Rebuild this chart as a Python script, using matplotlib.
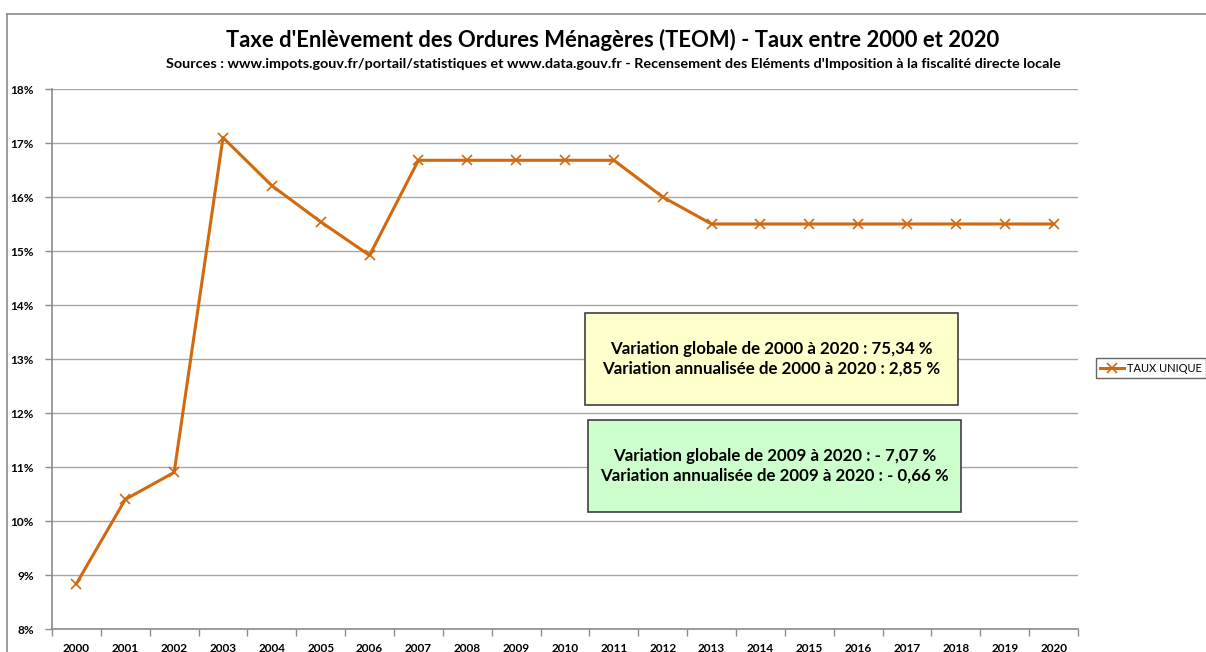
import matplotlib
matplotlib.use("Agg")
import matplotlib.pyplot as plt
from matplotlib.patches import Rectangle
from matplotlib.lines import Line2D
from matplotlib.ticker import FixedLocator, NullFormatter

plt.rcParams['font.family'] = ['Lato', 'DejaVu Sans']

years = [str(y) for y in range(2000, 2021)]
taux = [8.84, 10.40, 10.90, 17.10, 16.21, 15.54, 14.92,
        16.68, 16.68, 16.68, 16.68, 16.68, 16.00,
        15.50, 15.50, 15.50, 15.50, 15.50, 15.50, 15.50, 15.50]
y_ticks = list(range(8, 19))

W, H = 1206, 652
fig = plt.figure(figsize=(W / 100, H / 100), dpi=100)

def fx(px):
    return px / W

def fy(py):
    return 1 - py / H

# chart frame
fig.add_artist(Line2D([fx(7), fx(7)], [fy(14), 0], color='#8c8c8c', lw=1.2))
fig.add_artist(Line2D([fx(7), 1], [fy(14), fy(14)], color='#8c8c8c', lw=1.2))

ax = fig.add_axes([fx(52), fy(629), fx(1078) - fx(52), fy(89) - fy(629)])
x = list(range(len(years)))
line_color = '#D2690E'
ax.plot(x, taux, color=line_color, lw=2.2, marker='x', ms=7, mew=1.2,
        label='TAUX UNIQUE')

ax.set_xlim(-0.5, len(years) - 0.5)
ax.set_ylim(8, 18)
ax.set_yticks(y_ticks)
ax.set_yticklabels([f"{v}%" for v in y_ticks], fontsize=8.5, fontweight='bold')
ax.yaxis.grid(True, color='#a6a6a6', lw=1)
ax.set_axisbelow(True)

ax.xaxis.set_major_locator(FixedLocator([i - 0.5 for i in range(len(years) + 1)]))
ax.xaxis.set_major_formatter(NullFormatter())
ax.xaxis.set_minor_locator(FixedLocator(x))
ax.set_xticklabels(years, minor=True, fontsize=8.5, fontweight='bold')
ax.tick_params(axis='x', which='major', length=5, color='#8c8c8c', width=1)
ax.tick_params(axis='x', which='minor', length=0, pad=10)
ax.tick_params(axis='y', length=5, color='#8c8c8c', width=1, pad=8)

for s in ['top', 'right']:
    ax.spines[s].set_visible(False)
for s in ['left', 'bottom']:
    ax.spines[s].set_color('#8c8c8c')
    ax.spines[s].set_linewidth(1.2)

fig.text(fx(613), fy(40), "Taxe d'Enlèvement des Ordures Ménagères (TEOM) - Taux entre 2000 et 2020",
         ha='center', va='center', fontsize=15.8, fontweight='bold')
fig.text(fx(613), fy(64), "Sources : www.impots.gouv.fr/portail/statistiques et www.data.gouv.fr - "
         "Recensement des Eléments d'Imposition à la fiscalité directe locale",
         ha='center', va='center', fontsize=10.4, fontweight='bold')

# annotation boxes
boxes = [
    (585, 313, 958, 405, '#FFFFCC',
     "Variation globale de 2000 à 2020 : 75,34 %\nVariation annualisée de 2000 à 2020 : 2,85 %"),
    (588, 420, 961, 512, '#CCFFCC',
     "Variation globale de 2009 à 2020 : - 7,07 %\nVariation annualisée de 2009 à 2020 : - 0,66 %"),
]
for x0, y0, x1, y1, col, txt in boxes:
    fig.add_artist(Rectangle((fx(x0), fy(y1)), fx(x1) - fx(x0), fy(y0) - fy(y1),
                             transform=fig.transFigure, facecolor=col,
                             edgecolor='#404040', lw=1.2, zorder=5))
    fig.text(fx((x0 + x1) / 2), fy((y0 + y1) / 2), txt, ha='center', va='center',
             fontsize=12.2, fontweight='bold', linespacing=1.25, zorder=6)

leg = fig.legend(loc='center left', bbox_to_anchor=(fx(1090), fy(368)),
                 fontsize=8, frameon=True, fancybox=False, handlelength=2.2,
                 handletextpad=0.2, borderpad=0.4)
leg.get_frame().set_edgecolor('#404040')
leg.get_frame().set_linewidth(1)

fig.savefig('out.png', dpi=100)
